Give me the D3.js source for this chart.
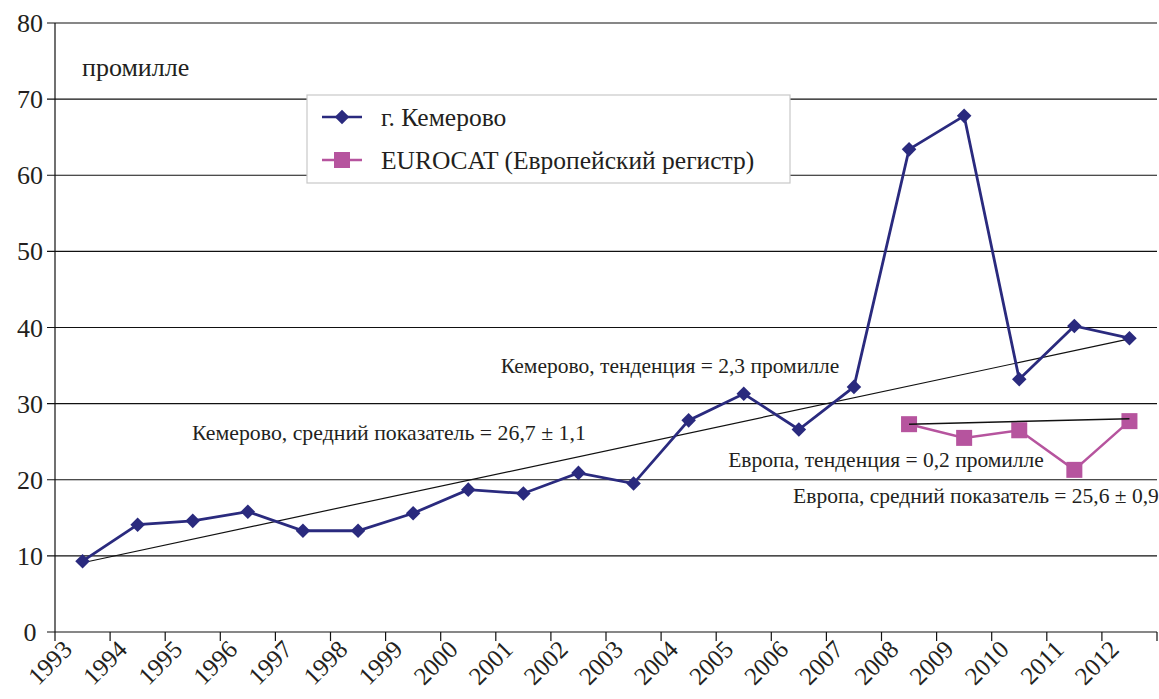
<!DOCTYPE html>
<html>
<head>
<meta charset="utf-8">
<script src="https://cdn.jsdelivr.net/npm/d3@7"></script>
<style>
  body { margin: 0; background: #fff; }
</style>
</head>
<body>
<script>
// years on the category axis
var years = ["1993","1994","1995","1996","1997","1998","1999","2000","2001","2002",
             "2003","2004","2005","2006","2007","2008","2009","2010","2011","2012"];

// Kemerovo, per mille
var kemerovo = [9.3, 14.1, 14.6, 15.8, 13.3, 13.3, 15.6, 18.7, 18.2, 20.9,
                19.5, 27.8, 31.3, 26.6, 32.2, 63.4, 67.8, 33.2, 40.2, 38.6];

// EUROCAT, 2008-2012
var euroYears = ["2008","2009","2010","2011","2012"];
var eurocat = [27.3, 25.5, 26.5, 21.3, 27.7];

// trend lines (start, end)
var kemTrendYears = ["1993", "2012"];
var kemTrend = [9.1, 38.5];
var euTrendYears = ["2008", "2012"];
var euTrend = [27.3, 28.0];

var yTicks = [0, 10, 20, 30, 40, 50, 60, 70, 80];

drawChart();

function drawChart(){
  var width = 1159, height = 699;
  var left = 55, right = 1157, plotTop = 23, bottom = 632;

  var navy = "#2a2a7e", pink = "#b6549e", ink = "#231f20";
  var serif = "'Liberation Serif', 'Times New Roman', serif";

  var svg = d3.select("body").append("svg")
      .attr("width", width)
      .attr("height", height);

  var x = d3.scaleBand()
      .domain(years)
      .range([left, right]);

  var y = d3.scaleLinear()
      .domain([0, 80])
      .range([bottom, plotTop]);

  function cx(yr){ return x(yr) + x.bandwidth() / 2; }

  //gridlines
  svg.selectAll(".grid")
    .data(yTicks)
    .enter()
    .append("line")
    .attr("x1", left - 8)
    .attr("x2", right)
    .attr("y1", function(d){ return y(d); })
    .attr("y2", function(d){ return y(d); })
    .attr("stroke", "#111")
    .attr("stroke-width", 1.2);

  //y axis line
  svg.append("line")
    .attr("x1", left).attr("x2", left)
    .attr("y1", plotTop).attr("y2", bottom)
    .attr("stroke", "#111").attr("stroke-width", 1.2);

  //y tick labels
  svg.selectAll(".ylab")
    .data(yTicks)
    .enter()
    .append("text")
    .attr("x", 30)
    .attr("y", function(d){ return y(d) + 9; })
    .attr("text-anchor", "middle")
    .style("font-family", serif)
    .style("font-size", "26px")
    .style("fill", ink)
    .text(function(d){ return d; });

  //x ticks at category boundaries
  var bounds = years.map(function(d){ return x(d); }).concat([right]);
  svg.selectAll(".xtick")
    .data(bounds)
    .enter()
    .append("line")
    .attr("x1", function(d){ return d; })
    .attr("x2", function(d){ return d; })
    .attr("y1", bottom)
    .attr("y2", bottom + 9)
    .attr("stroke", "#111").attr("stroke-width", 1.2);

  //x labels, rotated
  svg.selectAll(".xlab")
    .data(years)
    .enter()
    .append("text")
    .attr("transform", function(d){
      return "translate(" + (cx(d) - 9) + "," + (bottom + 19) + ") rotate(-45)";
    })
    .attr("text-anchor", "end")
    .style("font-family", serif)
    .style("font-size", "25px")
    .style("fill", ink)
    .text(function(d){ return d; });

  var line = d3.line()
    .x(function(d){ return cx(d[0]); })
    .y(function(d){ return y(d[1]); });

  //trend line Kemerovo
  svg.append("path")
    .datum(d3.zip(kemTrendYears, kemTrend))
    .attr("d", line)
    .attr("fill", "none").attr("stroke", "#111").attr("stroke-width", 1.2);

  //Kemerovo series
  svg.append("path")
    .datum(d3.zip(years, kemerovo))
    .attr("d", line)
    .attr("fill", "none").attr("stroke", navy).attr("stroke-width", 2.8);

  var diamond = d3.symbol().type(d3.symbolDiamond2).size(135);
  svg.selectAll(".kem")
    .data(d3.zip(years, kemerovo))
    .enter()
    .append("path")
    .attr("d", diamond)
    .attr("transform", function(d){ return "translate(" + cx(d[0]) + "," + y(d[1]) + ")"; })
    .attr("fill", navy);

  //EUROCAT series
  svg.append("path")
    .datum(d3.zip(euroYears, eurocat))
    .attr("d", line)
    .attr("fill", "none").attr("stroke", pink).attr("stroke-width", 2.5);

  svg.selectAll(".eu")
    .data(d3.zip(euroYears, eurocat))
    .enter()
    .append("rect")
    .attr("x", function(d){ return cx(d[0]) - 8; })
    .attr("y", function(d){ return y(d[1]) - 8; })
    .attr("width", 16).attr("height", 16)
    .attr("fill", pink);

  svg.append("path")
    .datum(d3.zip(euTrendYears, euTrend))
    .attr("d", line)
    .attr("fill", "none").attr("stroke", "#111").attr("stroke-width", 1.5);

  //annotations
  var notes = [
    {t: "промилле", x: 82, y: 76, s: 26, a: "start"},
    {t: "Кемерово, тенденция = 2,3 промилле", x: 670, y: 373, s: 21.5, a: "middle"},
    {t: "Кемерово, средний показатель = 26,7 ± 1,1", x: 389, y: 440, s: 21.8, a: "middle"},
    {t: "Европа, тенденция = 0,2 промилле", x: 886, y: 467, s: 21.5, a: "middle"},
    {t: "Европа, средний показатель = 25,6 ± 0,9", x: 976, y: 503, s: 21.5, a: "middle"}
  ];
  svg.selectAll(".note")
    .data(notes)
    .enter()
    .append("text")
    .attr("x", function(d){ return d.x; })
    .attr("y", function(d){ return d.y; })
    .attr("text-anchor", function(d){ return d.a; })
    .style("font-family", serif)
    .style("font-size", function(d){ return d.s + "px"; })
    .style("fill", ink)
    .text(function(d){ return d.t; });

  //legend
  var lg = svg.append("g");
  lg.append("rect")
    .attr("x", 307).attr("y", 95).attr("width", 483).attr("height", 88)
    .attr("fill", "#fff").attr("stroke", "#c8c8c8").attr("stroke-width", 1.2);

  var legendItems = [
    {name: "г. Кемерово", color: navy, shape: "diamond"},
    {name: "EUROCAT (Европейский регистр)", color: pink, shape: "square"}
  ];
  legendItems.forEach(function(d, i){
    var ly = 117 + i * 43;
    lg.append("line")
      .attr("x1", 322).attr("x2", 362).attr("y1", ly).attr("y2", ly)
      .attr("stroke", d.color).attr("stroke-width", 2.5);
    if (d.shape == "diamond") {
      lg.append("path").attr("d", diamond)
        .attr("transform", "translate(342," + ly + ")")
        .attr("fill", d.color);
    } else {
      lg.append("rect").attr("x", 334).attr("y", ly - 8).attr("width", 16).attr("height", 16)
        .attr("fill", d.color);
    }
    lg.append("text")
      .attr("x", 381).attr("y", ly + 9)
      .style("font-family", serif)
      .style("font-size", "25.5px")
      .style("fill", ink)
      .text(d.name);
  });
}
</script>
</body>
</html>
